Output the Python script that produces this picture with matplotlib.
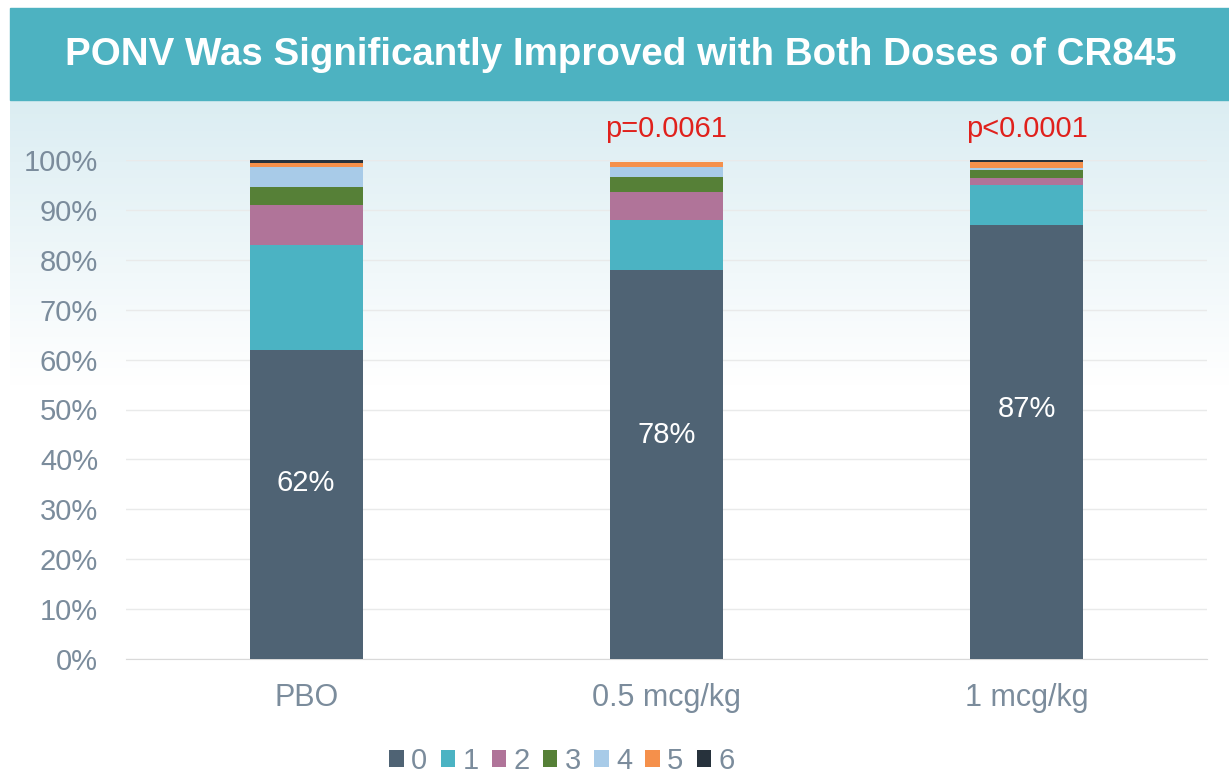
import matplotlib.pyplot as plt
import numpy as np
from matplotlib.patches import Rectangle

plt.rcParams['font.family'] = ['Liberation Sans', 'DejaVu Sans']

# Daten
groups = ['PBO', '0.5 mcg/kg', '1 mcg/kg']
levels = ['0', '1', '2', '3', '4', '5', '6']
share_0 = [62, 78, 87]
share_1 = [21, 10, 8]
share_2 = [8, 5.6, 1.3]
share_3 = [3.5, 3.0, 1.6]
share_4 = [4.0, 1.9, 0.5]
share_5 = [0.8, 1.1, 1.1]
share_6 = [0.7, 0.0, 0.5]
bar_labels = ['62%', '78%', '87%']
p_values = ['', 'p=0.0061', 'p<0.0001']

colors = ['#4f6374', '#4bb3c3', '#b07499', '#568037', '#a8cbe8', '#f5904b', '#27323c']
grey = '#7b8c9c'

fig = plt.figure(figsize=(12.29, 7.76), dpi=100)

# Hintergrund mit Verlauf
bg = fig.add_axes([10 / 1229, 0, 1, 1 - 100 / 776])
grad = np.linspace(0, 1, 300)
grad = np.clip(grad / 0.42, 0, 1)[:, None]
top = np.array([0.86, 0.93, 0.95])
img = top[None, None, :] * (1 - grad[:, :, None]) + np.ones(3)[None, None, :] * grad[:, :, None]
bg.imshow(img, aspect='auto', extent=[0, 1, 0, 1])
bg.axis('off')

# Titelband
fig.patches.append(Rectangle((10 / 1229, 1 - 100 / 776), 1, 92 / 776,
                             transform=fig.transFigure, color='#4db2c1', zorder=0))
fig.text(0.505, 1 - 55 / 776, 'PONV Was Significantly Improved with Both Doses of CR845',
         color='white', fontsize=27.7, fontweight='bold', ha='center', va='center')

ax = fig.add_axes([126 / 1229, 1 - 659 / 776, (1207 - 126) / 1229, (659 - 160) / 776])
ax.patch.set_alpha(0)

x = np.arange(len(groups))
series = [share_0, share_1, share_2, share_3, share_4, share_5, share_6]
bottom = np.zeros(len(groups))
for vals, col, lab in zip(series, colors, levels):
    ax.bar(x, vals, width=0.313, bottom=bottom, color=col, label=lab, zorder=3)
    bottom += np.array(vals)

for i in range(len(groups)):
    ax.text(x[i], share_0[i] * 0.6 - 2, bar_labels[i], color='white', fontsize=21,
            ha='center', va='center', zorder=4)
    if p_values[i]:
        ax.text(x[i], 106.3, p_values[i], color='#e0211c', fontsize=21,
                ha='center', va='center', clip_on=False)

ax.set_xlim(-0.5, 2.5)
ax.set_ylim(0, 100)
ax.set_yticks(np.arange(0, 101, 10))
ax.set_yticklabels([f'{v}%' for v in range(0, 101, 10)])
ax.set_xticks(x)
ax.set_xticklabels(groups)
ax.tick_params(length=0, labelcolor=grey)
ax.tick_params(axis='y', pad=20, labelsize=21)
ax.tick_params(axis='x', pad=17, labelsize=22)
ax.grid(axis='y', color='#e9eaea', linewidth=1, zorder=0)
for s in ['top', 'right', 'left']:
    ax.spines[s].set_visible(False)
ax.spines['bottom'].set_color('#d9d9d9')

ax.legend(loc='center', bbox_to_anchor=(562 / 1229, 1 - 761 / 776), bbox_transform=fig.transFigure,
          ncol=7, frameon=False, fontsize=21, labelcolor=grey, handlelength=0.5, handleheight=0.5,
          handletextpad=0.25, columnspacing=0.45)

plt.savefig('out.png', dpi=100)
